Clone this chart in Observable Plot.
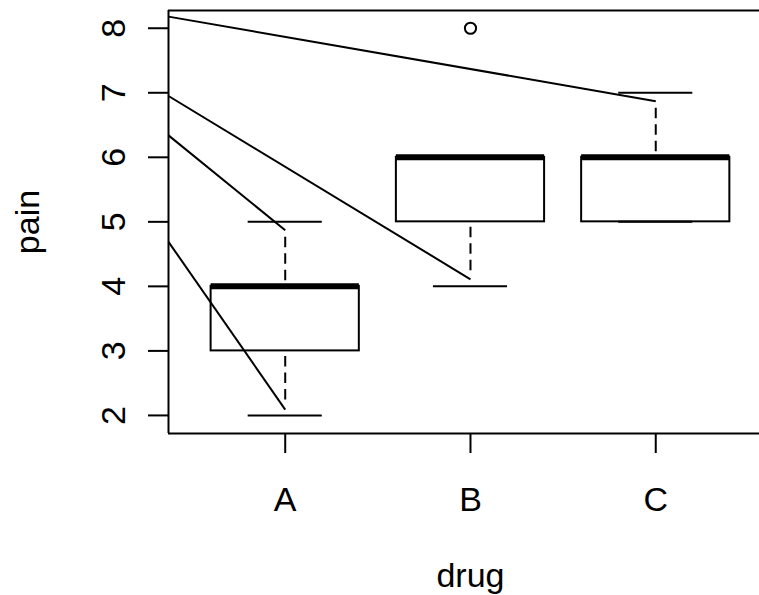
<!DOCTYPE html>
<html>
<head>
<meta charset="utf-8">
<script src="https://cdn.jsdelivr.net/npm/d3@7"></script>
<script src="https://cdn.jsdelivr.net/npm/@observablehq/plot@0.6"></script>
<style>
  html, body { margin: 0; padding: 0; background: white; }
</style>
</head>
<body>
<div id="chart"></div>
<script>
// ---- data ----
const drugs = ["A", "B", "C"];
const drugPos = [1, 2, 3];
const lowerWhisker = [2, 4, 5];
const q1 = [3, 5, 5];
const median = [4, 6, 6];
const q3 = [4, 6, 6];
const upperWhisker = [5, 6, 7];
const outlierDrug = ["B"];
const outlierValue = [8];
const yTicks = [2, 3, 4, 5, 6, 7, 8];
const yTickLabels = ["2", "3", "4", "5", "6", "7", "8"];
// line segments entering from the left edge of the plot region
const segStartY = [8.18, 6.95, 6.34, 4.69];
const segEndDrug = ["C", "B", "A", "A"];
const segEndY = [6.87, 4.11, 4.87, 2.09];

const xDomain = [0.37, 3.56];
const yDomain = [1.72, 8.275];

// ---- tables ----
const posOf = d => drugPos[drugs.indexOf(d)];
const boxes = drugs.map((d, i) => ({
  drug: d, pos: drugPos[i], lo: lowerWhisker[i], q1: q1[i],
  med: median[i], q3: q3[i], hi: upperWhisker[i]
}));
const outliers = outlierDrug.map((d, i) => ({pos: posOf(d), v: outlierValue[i]}));
const segs = segStartY.map((y, i) => ({
  x1: xDomain[0], y1: y, x2: posOf(segEndDrug[i]), y2: segEndY[i]
}));
const ylabels = yTicks.map((t, i) => ({v: t, label: yTickLabels[i]}));

const FONT = "'Liberation Sans', Arial, Helvetica, sans-serif";
const FS = 34;
const LW = 2;
const boxHalf = 0.4, capHalf = 0.2;
const dash = "0,15.5,10.5,6,10.5,6,10.5,6";

const chart = Plot.plot({
  width: 759,
  height: 595,
  marginLeft: 168,
  marginRight: 0,
  marginTop: 10,
  marginBottom: 162,
  style: {fontFamily: FONT, fontSize: FS + "px", color: "black", background: "white"},
  x: {domain: xDomain, axis: null},
  y: {domain: yDomain, axis: null},
  marks: [
    // whiskers (dashed), drawn from whisker end to box edge
    Plot.ruleX(boxes, {x: "pos", y1: "hi", y2: "q3", stroke: "black", strokeWidth: LW, strokeDasharray: dash}),
    Plot.ruleX(boxes, {x: "pos", y1: "lo", y2: "q1", stroke: "black", strokeWidth: LW, strokeDasharray: dash}),
    // staples
    Plot.ruleY(boxes, {y: "hi", x1: d => d.pos - capHalf, x2: d => d.pos + capHalf, stroke: "black", strokeWidth: LW}),
    Plot.ruleY(boxes, {y: "lo", x1: d => d.pos - capHalf, x2: d => d.pos + capHalf, stroke: "black", strokeWidth: LW}),
    // boxes
    Plot.rect(boxes, {x1: d => d.pos - boxHalf, x2: d => d.pos + boxHalf, y1: "q1", y2: "q3", fill: "none", stroke: "black", strokeWidth: LW}),
    // medians
    Plot.ruleY(boxes, {y: "med", x1: d => d.pos - boxHalf, x2: d => d.pos + boxHalf, stroke: "black", strokeWidth: 6, strokeLinecap: "butt"}),
    // outliers
    Plot.dot(outliers, {x: "pos", y: "v", r: 5.6, stroke: "black", strokeWidth: LW, fill: "none"}),
    // segments
    Plot.link(segs, {x1: "x1", y1: "y1", x2: "x2", y2: "y2", stroke: "black", strokeWidth: LW}),
    // box frame (left, top, bottom)
    Plot.ruleX([xDomain[0]], {stroke: "black", strokeWidth: LW}),
    Plot.ruleY([yDomain[0], yDomain[1]], {stroke: "black", strokeWidth: LW}),
    // axes ticks
    Plot.axisY({ticks: yTicks, tickSize: 20, tickFormat: () => "", label: null, strokeWidth: LW}),
    Plot.axisX({ticks: drugPos, tickSize: 20, tickPadding: 33, tickFormat: d => drugs[drugPos.indexOf(d)], fontSize: FS, label: null, strokeWidth: LW}),
    // y tick labels (rotated, as in R)
    Plot.text(ylabels, {x: () => xDomain[0], y: "v", text: "label", rotate: -90, dx: -44, lineAnchor: "bottom", textAnchor: "middle", fontSize: FS, fill: "black"}),
    // axis titles
    Plot.text(["pain"], {x: () => xDomain[0], y: () => (yDomain[0] + yDomain[1]) / 2, text: d => d, rotate: -90, dx: -130, lineAnchor: "bottom", textAnchor: "middle", fontSize: FS, fill: "black"}),
    Plot.text(["drug"], {x: () => 2, y: () => yDomain[0], text: d => d, dy: 153, lineAnchor: "bottom", textAnchor: "middle", fontSize: FS, fill: "black"})
  ]
});
document.getElementById("chart").appendChild(chart);
</script>
</body>
</html>
